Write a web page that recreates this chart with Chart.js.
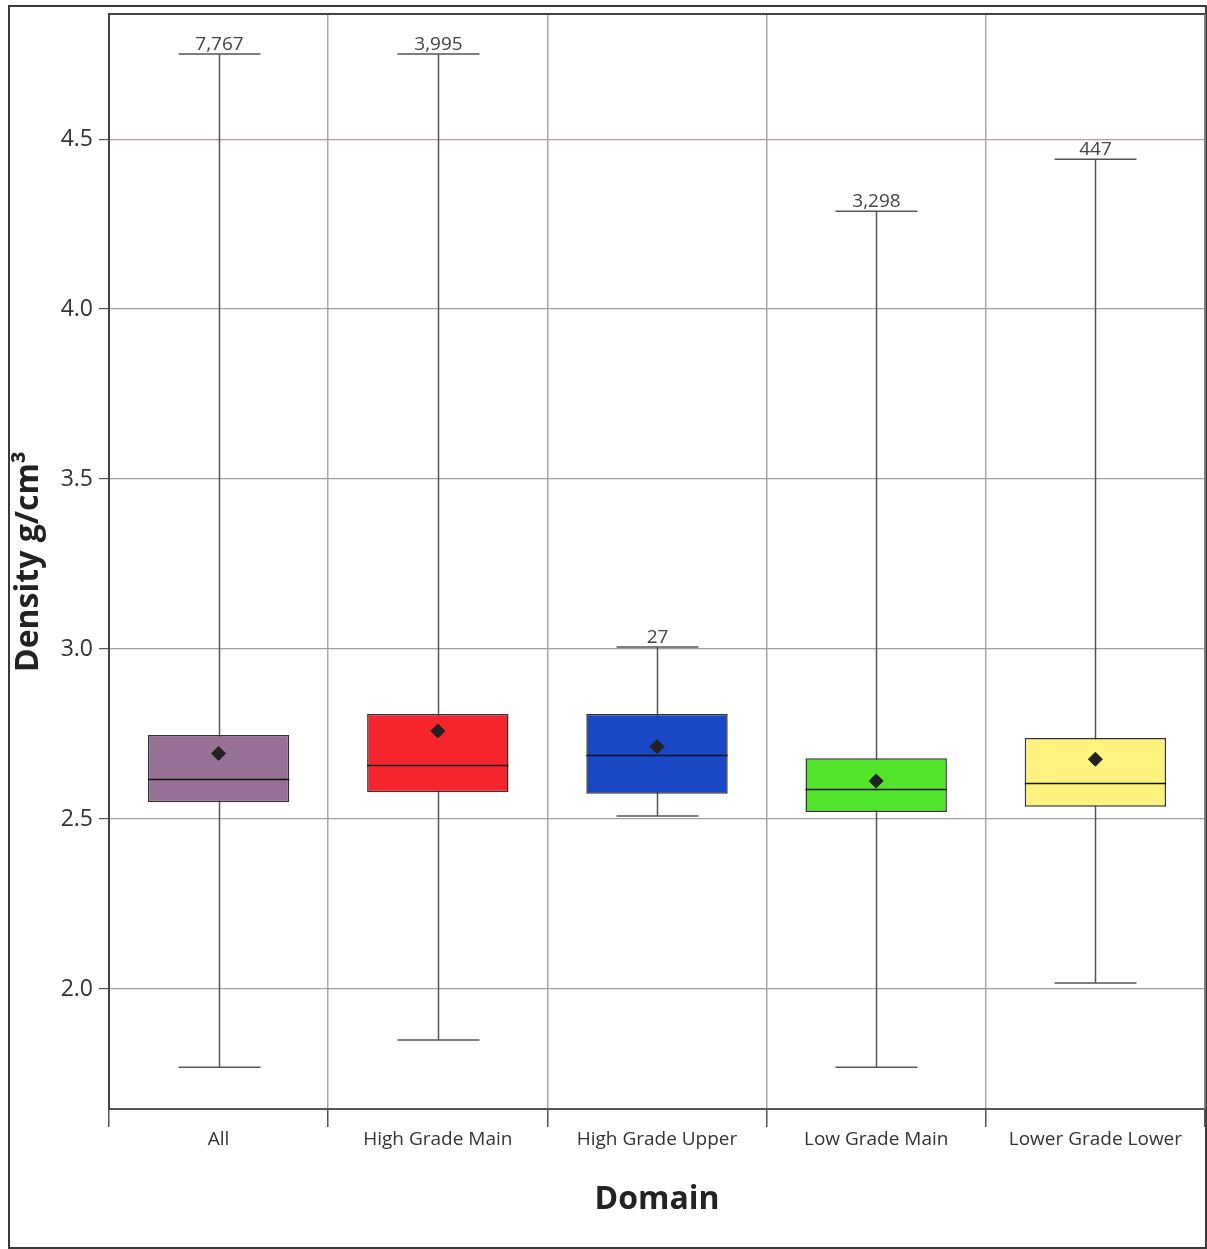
<!DOCTYPE html>
<html>
<head>
<meta charset="utf-8">
<script src="https://cdn.jsdelivr.net/npm/chart.js@4.4.1/dist/chart.umd.min.js"></script>
<style>
  html, body { margin: 0; padding: 0; background: #fff; }
  #wrap { width: 1207px; height: 1249px; position: relative; }
</style>
</head>
<body>
<div id="wrap"><canvas id="boxChart" width="1207" height="1249"></canvas></div>
<script>
const domains = ['All', 'High Grade Main', 'High Grade Upper', 'Low Grade Main', 'Lower Grade Lower'];
const minVals = [1.77, 1.85, 2.509, 1.77, 2.018];
const q1Vals = [2.549, 2.579, 2.574, 2.521, 2.536];
const medianVals = [2.617, 2.658, 2.688, 2.587, 2.607];
const q3Vals = [2.747, 2.809, 2.809, 2.679, 2.738];
const maxVals = [4.75, 4.75, 3.006, 4.288, 4.441];
const meanVals = [2.693, 2.759, 2.713, 2.612, 2.676];
const counts = ['7,767', '3,995', '27', '3,298', '447'];
const boxColors = ['#977096', '#f6242c', '#1947c6', '#52e52c', '#fff380'];
const yTicks = [2.0, 2.5, 3.0, 3.5, 4.0, 4.5];

// whiskers, caps, medians and count labels
const boxExtras = {
  id: 'boxExtras',
  beforeDraw(chart) {
    const ctx = chart.ctx;
    ctx.save();
    ctx.fillStyle = '#fff';
    ctx.fillRect(0, 0, chart.width, chart.height);
    ctx.strokeStyle = '#3a3a3a';
    ctx.lineWidth = 2;
    ctx.strokeRect(9, 6, 1197, 1242);
    ctx.restore();
  },
  beforeDatasetsDraw(chart) {
    const ctx = chart.ctx;
    const x = chart.scales.x, y = chart.scales.y;
    const capHalf = 41;
    ctx.save();
    ctx.strokeStyle = '#555';
    ctx.lineWidth = 1.5;
    domains.forEach((d, i) => {
      const cx = Math.round(x.getPixelForValue(i)) + 0.5;
      const yMin = y.getPixelForValue(minVals[i]);
      const yMax = y.getPixelForValue(maxVals[i]);
      ctx.beginPath();
      ctx.moveTo(cx, yMax);
      ctx.lineTo(cx, yMin);
      ctx.moveTo(cx - capHalf, yMax);
      ctx.lineTo(cx + capHalf, yMax);
      ctx.moveTo(cx - capHalf, yMin);
      ctx.lineTo(cx + capHalf, yMin);
      ctx.stroke();
      ctx.fillStyle = '#444';
      ctx.font = '19px "Open Sans"';
      ctx.textAlign = 'center';
      ctx.textBaseline = 'bottom';
      ctx.fillText(counts[i], cx, yMax);
    });
    ctx.restore();
  },
  afterDatasetDraw(chart, args) {
    if (args.index !== 0) return;
    const ctx = chart.ctx;
    const y = chart.scales.y;
    const meta = chart.getDatasetMeta(0);
    ctx.save();
    ctx.strokeStyle = '#111';
    ctx.lineWidth = 1.5;
    meta.data.forEach((bar, i) => {
      const my = Math.round(y.getPixelForValue(medianVals[i])) + 0.5;
      ctx.beginPath();
      ctx.moveTo(bar.x - bar.width / 2, my);
      ctx.lineTo(bar.x + bar.width / 2, my);
      ctx.stroke();
    });
    ctx.restore();
  },
  afterDraw(chart) {
    const a = chart.chartArea;
    const ctx = chart.ctx;
    ctx.save();
    ctx.strokeStyle = '#444';
    ctx.lineWidth = 2;
    ctx.beginPath();
    ctx.moveTo(a.left, a.bottom);
    ctx.lineTo(a.left, a.top);
    ctx.lineTo(a.right, a.top);
    ctx.stroke();
    ctx.strokeStyle = '#777';
    ctx.lineWidth = 1.5;
    ctx.beginPath();
    ctx.moveTo(a.right, a.top);
    ctx.lineTo(a.right, a.bottom);
    ctx.stroke();
    ctx.restore();
  }
};

new Chart(document.getElementById('boxChart'), {
  type: 'bar',
  data: {
    labels: domains,
    datasets: [
      {
        label: 'Box',
        data: domains.map((d, i) => [q1Vals[i], q3Vals[i]]),
        backgroundColor: boxColors,
        borderColor: '#333',
        borderWidth: 1.5,
        borderSkipped: false,
        barPercentage: 0.645,
        categoryPercentage: 1,
        order: 2
      },
      {
        type: 'line',
        label: 'Mean',
        data: meanVals,
        showLine: false,
        pointStyle: 'rectRot',
        pointRadius: 7,
        pointBackgroundColor: '#222',
        pointBorderColor: '#222',
        order: 1
      }
    ]
  },
  options: {
    responsive: false,
    animation: false,
    layout: { autoPadding: false, padding: { left: 0, top: 14, right: 2, bottom: 0 } },
    plugins: { legend: { display: false }, tooltip: { enabled: false } },
    scales: {
      x: {
        offset: true,
        grid: {
          offset: true,
          color: '#a8a8a8',
          lineWidth: 1.5,
          tickLength: 18,
          tickColor: '#555'
        },
        border: { color: '#555', width: 2 },
        ticks: { color: '#333', font: { family: 'Open Sans', size: 19 }, padding: 1, maxRotation: 0 },
        title: {
          display: true,
          text: 'Domain',
          color: '#222',
          font: { family: 'Open Sans', size: 32, weight: 'bold' },
          padding: { top: 0, bottom: 30 }
        },
        afterFit(scale) {
          scale.height = 140;
          scale.paddingLeft = 0;
          scale.paddingRight = 0;
        }
      },
      y: {
        min: 1.647,
        max: 4.868,
        afterBuildTicks(scale) { scale.ticks = yTicks.map(v => ({ value: v })); },
        grid: {
          color: ctx => (ctx.tick && ctx.tick.value === 4.5) ? '#b89c98' : '#a0a0a0',
          lineWidth: 1.2,
          tickLength: 10,
          tickColor: '#555'
        },
        border: { color: '#444', width: 2 },
        ticks: {
          color: '#333',
          font: { family: 'Open Sans', size: 23 },
          padding: 6,
          callback: v => Number(v).toFixed(1)
        },
        title: {
          display: true,
          text: 'Density g/cm³',
          color: '#222',
          font: { family: 'Open Sans', size: 32, weight: 'bold' },
          padding: { top: 10, bottom: 0 }
        },
        afterFit(scale) {
          scale.width = 109;
          scale.paddingTop = 0;
          scale.paddingBottom = 0;
        }
      }
    }
  },
  plugins: [boxExtras]
});
</script>
</body>
</html>
